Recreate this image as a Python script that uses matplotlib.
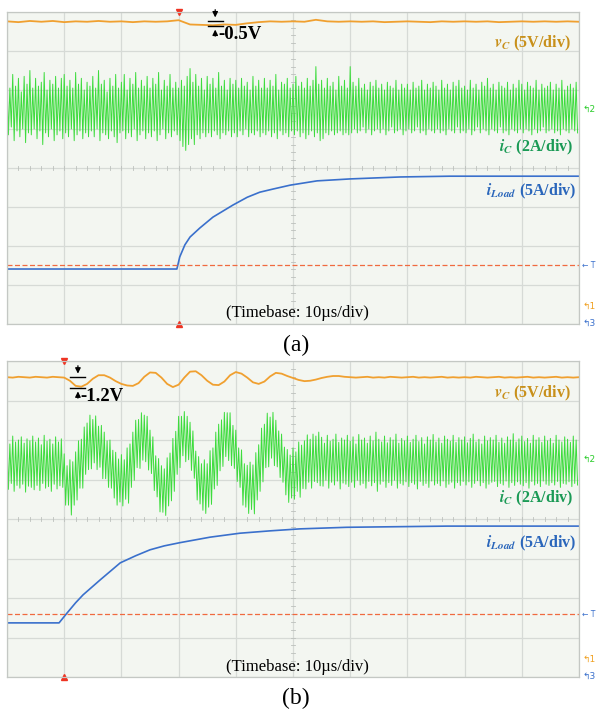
import numpy as np
import matplotlib.pyplot as plt

plt.rcParams['mathtext.fontset'] = 'stix'
SERIF = 'Liberation Serif'

# time axis: 0..100 us (10 us/div), vertical axis in divisions (0..8)
t_ic = np.arange(0, 100, 0.5)

# ---------------- panel (a) ----------------
vc_a = [7.76, 7.74, 7.77, 7.75, 7.77, 7.74, 7.76, 7.75, 7.77, 7.75,
        7.76, 7.74, 7.76, 7.75, 7.76, 7.79, 7.68, 7.67, 7.66, 7.68,
        7.67, 7.71, 7.74, 7.76, 7.75, 7.76, 7.75, 7.80, 7.76, 7.75,
        7.76, 7.75, 7.76, 7.74, 7.75, 7.76, 7.75, 7.74, 7.76, 7.75,
        7.76, 7.75, 7.76, 7.74, 7.75, 7.76, 7.75, 7.76, 7.75, 7.76, 7.75]
t_vc_a = np.arange(0, 101, 2.0)

ic_hi_a = [6.25, 6.05, 6.40, 6.10, 6.30, 5.95, 6.35, 6.15, 6.50, 6.05,
           6.30, 6.10, 6.20, 6.45, 6.00, 6.25, 6.15, 6.35, 6.05, 6.30,
           6.40, 6.10, 6.25, 6.05, 6.45, 6.15, 6.30, 6.00, 6.20, 6.10,
           6.35, 6.05, 6.50, 6.15, 6.25, 5.95, 6.30, 6.10, 6.40, 6.05,
           6.20, 6.40, 6.00, 6.30, 6.15, 6.45, 6.05, 6.25, 6.10, 6.35,
           6.05, 6.30, 6.15, 6.45, 6.00, 6.25, 6.10, 6.40, 6.05, 6.20,
           6.05, 6.25, 6.10, 6.35, 6.55, 6.20, 6.40, 6.10, 6.30, 6.00,
           6.35, 6.15, 6.30, 6.05, 6.45, 6.10, 6.25, 6.00, 6.30, 6.15,
           6.25, 6.05, 6.30, 6.10, 6.20, 6.00, 6.35, 6.10, 6.25, 6.05,
           6.30, 6.05, 6.25, 6.10, 6.40, 6.00, 6.20, 6.15, 6.30, 6.05,
           6.15, 6.35, 6.10, 6.20, 6.05, 6.30, 6.10, 6.25, 6.60, 6.15,
           6.25, 6.05, 6.30, 6.10, 6.20, 6.00, 6.35, 6.10, 6.25, 6.05,
           6.60, 6.20, 6.10, 6.30, 6.05, 6.15, 6.00, 6.20, 6.10, 6.25,
           6.05, 6.15, 6.00, 6.20, 6.10, 6.05, 6.25, 6.00, 6.15, 6.05,
           6.15, 6.00, 6.20, 6.05, 6.10, 6.25, 6.00, 6.15, 6.05, 6.20,
           6.10, 6.00, 6.25, 6.05, 6.15, 6.00, 6.20, 6.10, 6.25, 6.05,
           6.10, 6.00, 6.25, 6.05, 6.15, 6.00, 6.20, 6.10, 6.30, 6.05,
           6.15, 6.00, 6.20, 6.10, 6.05, 6.20, 6.00, 6.15, 6.05, 6.25,
           6.15, 6.00, 6.20, 6.10, 6.05, 6.25, 6.00, 6.15, 6.05, 6.10,
           6.20, 6.00, 6.15, 6.05, 6.25, 6.00, 6.10, 6.15, 6.05, 6.20]
ic_lo_a = [4.85, 5.05, 4.70, 4.95, 4.80, 5.00, 4.65, 4.90, 4.85, 5.00,
           4.75, 4.95, 4.60, 4.90, 4.80, 5.00, 4.70, 4.85, 4.95, 4.75,
           4.90, 4.80, 5.00, 4.70, 4.85, 4.95, 4.75, 4.90, 4.80, 4.95,
           4.80, 5.00, 4.70, 4.90, 4.85, 4.75, 4.95, 4.80, 4.65, 4.90,
           4.95, 4.75, 4.90, 4.80, 5.00, 4.70, 4.85, 4.95, 4.75, 4.90,
           4.80, 4.95, 4.70, 4.85, 5.00, 4.75, 4.90, 4.80, 4.95, 4.85,
           4.70, 4.55, 4.45, 4.60, 4.75, 4.60, 4.85, 4.75, 4.90, 4.80,
           4.90, 4.80, 4.95, 4.85, 4.75, 4.90, 4.85, 4.95, 4.80, 4.90,
           4.80, 4.95, 4.85, 5.00, 4.80, 4.90, 4.85, 4.95, 4.80, 4.90,
           4.85, 4.95, 4.80, 4.90, 4.75, 4.95, 4.85, 4.90, 4.80, 4.95,
           4.85, 4.95, 4.80, 4.90, 4.75, 4.85, 4.95, 4.80, 4.90, 4.70,
           4.75, 4.90, 4.85, 4.95, 4.85, 4.90, 4.95, 4.85, 4.90, 4.85,
           4.90, 5.00, 4.90, 4.95, 5.05, 4.90, 5.00, 4.85, 4.95, 5.00,
           4.90, 5.00, 4.85, 4.95, 5.05, 4.90, 4.95, 5.00, 4.85, 4.95,
           5.00, 4.90, 4.95, 5.05, 4.90, 4.95, 4.85, 5.00, 4.95, 4.90,
           5.00, 4.90, 4.95, 4.85, 5.00, 4.95, 4.90, 5.05, 4.90, 4.95,
           4.90, 5.00, 4.85, 4.95, 5.05, 4.90, 5.00, 4.95, 4.85, 5.00,
           4.95, 4.90, 5.05, 4.90, 4.95, 4.85, 5.00, 4.95, 4.90, 5.00,
           4.90, 5.00, 4.95, 4.85, 5.00, 4.90, 4.95, 5.05, 4.90, 4.95,
           5.00, 4.90, 4.95, 4.85, 5.00, 4.95, 4.90, 5.00, 4.95, 4.90]

t_load_a = [0, 29.7, 30.2, 31.1, 32.0, 33.7, 36.0, 39.5, 42.0, 44.2,
            46.5, 49.5, 54.2, 60.0, 68.7, 77.4, 100]
load_a = [1.41, 1.41, 1.72, 2.03, 2.23, 2.46, 2.74, 3.05, 3.25, 3.38,
          3.46, 3.56, 3.67, 3.72, 3.77, 3.79, 3.79]
trig_a = 1.51
trig_t_a = 30.0

# ---------------- panel (b) ----------------
vc_b = [7.59, 7.58, 7.60, 7.59, 7.58, 7.60, 7.59, 7.58, 7.60, 7.59,
        7.58, 7.50, 7.37, 7.35, 7.42, 7.55, 7.64, 7.64, 7.58, 7.49,
        7.42, 7.38, 7.37, 7.44, 7.60, 7.71, 7.70, 7.58, 7.42, 7.34,
        7.40, 7.58, 7.73, 7.74, 7.64, 7.50, 7.40, 7.39, 7.48, 7.64,
        7.72, 7.68, 7.58, 7.46, 7.42, 7.48, 7.61, 7.70, 7.68, 7.62,
        7.57, 7.52, 7.49, 7.50, 7.53, 7.57, 7.60, 7.62, 7.62, 7.60,
        7.59, 7.58, 7.59, 7.60, 7.58, 7.59, 7.58, 7.60, 7.59, 7.58,
        7.59, 7.60, 7.58, 7.59, 7.58, 7.59, 7.60, 7.58, 7.59, 7.58,
        7.59, 7.58, 7.60, 7.59, 7.58, 7.59, 7.60, 7.58, 7.59, 7.58,
        7.59, 7.60, 7.58, 7.59, 7.58, 7.59, 7.60, 7.58, 7.59, 7.58, 7.59]
t_vc_b = np.arange(0, 101, 1.0)

ic_hi_b = [6.05, 5.90, 6.10, 5.95, 6.00, 6.08, 5.92, 6.03, 5.98, 6.10,
           5.95, 6.05, 5.88, 6.12, 5.97, 6.02, 5.90, 6.08, 5.95, 6.03,
           5.65, 5.35, 5.50, 5.45, 5.70, 5.98, 6.02, 6.33, 6.43, 6.63,
           6.52, 6.61, 6.35, 6.37, 6.20, 5.98, 6.00, 5.74, 5.69, 5.52,
           5.63, 5.50, 5.80, 5.90, 6.20, 6.50, 6.52, 6.69, 6.63, 6.60,
           6.25, 6.08, 5.60, 5.53, 5.35, 5.27, 5.55, 5.67, 6.04, 6.22,
           6.60, 6.60, 6.72, 6.60, 6.45, 6.23, 5.72, 5.58, 5.40, 5.50,
           5.40, 5.73, 5.80, 6.20, 6.40, 6.51, 6.70, 6.69, 6.69, 6.37,
           6.25, 5.80, 5.75, 5.40, 5.36, 5.44, 5.37, 5.68, 5.88, 6.30,
           6.40, 6.68, 6.58, 6.70, 6.50, 6.23, 6.15, 5.82, 5.76, 5.62,
           5.80, 5.70, 5.95, 5.87, 5.98, 6.13, 6.02, 6.15, 6.10, 6.20,
           6.07, 5.92, 6.12, 5.97, 6.02, 6.15, 5.94, 6.05, 6.00, 6.12,
           5.97, 6.08, 5.90, 6.14, 6.00, 6.05, 5.92, 6.10, 5.98, 6.20,
           6.02, 5.95, 6.10, 5.93, 6.06, 6.00, 6.15, 5.92, 6.04, 5.98,
           6.10, 5.94, 6.02, 6.12, 5.96, 6.06, 5.90, 6.08, 6.00, 6.14,
           5.95, 6.05, 5.92, 6.10, 6.02, 5.97, 6.12, 5.94, 6.06, 6.00,
           6.08, 5.93, 6.04, 6.15, 5.95, 6.02, 5.90, 6.10, 5.98, 6.06,
           6.00, 6.12, 5.94, 6.05, 5.92, 6.08, 6.00, 6.16, 5.95, 6.03,
           6.10, 5.96, 6.04, 5.92, 6.12, 6.00, 6.06, 5.94, 6.10, 5.98,
           6.04, 5.92, 6.12, 6.00, 5.95, 6.08, 6.02, 5.94, 6.10, 6.00]
ic_lo_b = [4.75, 4.90, 4.70, 4.85, 4.78, 4.88, 4.68, 4.83, 4.80, 4.74,
           4.85, 4.72, 4.90, 4.78, 4.82, 4.70, 4.88, 4.76, 4.84, 4.80,
           4.35, 4.35, 4.10, 4.35, 4.48, 4.78, 4.78, 5.13, 5.25, 5.27,
           5.42, 5.25, 5.31, 5.02, 5.02, 4.80, 4.78, 4.53, 4.35, 4.43,
           4.33, 4.50, 4.40, 4.80, 4.98, 5.30, 5.28, 5.49, 5.45, 5.24,
           5.15, 4.72, 4.56, 4.18, 4.17, 4.09, 4.33, 4.46, 4.70, 5.13,
           5.30, 5.60, 5.45, 5.50, 5.23, 5.03, 4.48, 4.38, 4.22, 4.14,
           4.30, 4.37, 4.76, 4.85, 5.22, 5.33, 5.58, 5.48, 5.35, 5.28,
           4.95, 4.80, 4.35, 4.30, 4.14, 4.24, 4.13, 4.48, 4.70, 4.94,
           5.30, 5.32, 5.54, 5.35, 5.32, 5.05, 4.93, 4.61, 4.42, 4.53,
           4.50, 4.70, 4.55, 4.77, 4.76, 4.93, 4.78, 4.95, 4.92, 4.84,
           4.83, 4.98, 4.78, 4.93, 4.86, 4.96, 4.76, 4.91, 4.88, 4.82,
           4.93, 4.80, 4.98, 4.86, 4.90, 4.78, 4.95, 4.84, 4.92, 4.70,
           4.88, 4.95, 4.80, 4.92, 4.85, 4.98, 4.78, 4.90, 4.86, 4.94,
           4.82, 4.92, 4.88, 4.76, 4.95, 4.85, 4.90, 4.80, 4.96, 4.86,
           4.90, 4.84, 4.96, 4.80, 4.88, 4.93, 4.78, 4.92, 4.85, 4.95,
           4.86, 4.94, 4.80, 4.90, 4.97, 4.84, 4.92, 4.78, 4.88, 4.93,
           4.95, 4.82, 4.90, 4.86, 4.96, 4.80, 4.92, 4.85, 4.94, 4.88,
           4.84, 4.92, 4.78, 4.95, 4.86, 4.90, 4.82, 4.96, 4.88, 4.85,
           4.92, 4.86, 4.95, 4.80, 4.90, 4.88, 4.94, 4.82, 4.90, 4.86]

t_load_b = [0, 9.1, 10.5, 12.0, 13.3, 16.3, 19.8, 22.5, 25.0, 27.5,
            30.2, 35.5, 40.7, 46.0, 51.2, 59.4, 77.0, 100]
load_b = [1.37, 1.37, 1.62, 1.88, 2.08, 2.46, 2.89, 3.07, 3.22, 3.32,
          3.40, 3.54, 3.64, 3.70, 3.75, 3.79, 3.82, 3.82]
trig_b = 1.59
trig_t_b = 10.0

C_VC = '#f0a030'
C_VC_TXT = '#c8901a'
C_IC = '#3ddc3d'
C_IC_TXT = '#1a9a55'
C_LD = '#3a70cc'
C_LD_TXT = '#2a66bb'
C_TRIG = '#f06a40'


def draw_panel(ax, vc_t, vc, hi, lo, ld_t, ld, trig, trig_t, dip_txt, dip_t,
               dip_lvl, dip_low, caption, lab_y):
    ax.set_facecolor('#f3f6f1')
    ax.set_xlim(0, 100)
    ax.set_ylim(0, 8)
    ax.set_xticks(np.arange(0, 101, 10))
    ax.set_yticks(np.arange(0, 9, 1))
    ax.grid(True, color='#d6dad6', lw=0.9)
    ax.tick_params(length=0, labelbottom=False, labelleft=False)
    for s in ax.spines.values():
        s.set_color('#c4c8c4')
        s.set_linewidth(0.9)
    # small ticks on centre lines
    for x in np.arange(2, 100, 2):
        ax.plot([x, x], [3.94, 4.06], color='#bcc0bc', lw=0.6)
    for y in np.arange(0.2, 8, 0.2):
        ax.plot([49.6, 50.4], [y, y], color='#bcc0bc', lw=0.6)

    # iC trace (switching ripple)
    xs = np.empty(2 * len(t_ic))
    ys = np.empty(2 * len(t_ic))
    xs[0::2] = t_ic
    xs[1::2] = t_ic + 0.25
    ys[0::2] = hi
    ys[1::2] = lo
    ax.plot(xs, ys, color=C_IC, lw=0.7)
    ax.plot(vc_t, vc, color=C_VC, lw=1.3)
    ax.plot(ld_t, ld, color=C_LD, lw=1.2)
    ax.axhline(trig, color=C_TRIG, lw=0.9, ls=(0, (4, 2)))

    ax.plot([trig_t], [8], marker='v', color='#ee3322', ms=4, clip_on=False)
    ax.plot([trig_t], [0], marker='^', color='#ee3322', ms=4, clip_on=False)

    # dip annotation
    top = dip_lvl
    ax.plot([dip_t - 1.3, dip_t + 1.3], [top, top], color='k', lw=1.0,
            clip_on=False)
    ax.plot([dip_t - 1.3, dip_t + 1.3], [dip_low, dip_low], color='k', lw=1.0,
            clip_on=False)
    ax.annotate('', xy=(dip_t, top + 0.02), xytext=(dip_t, top + 0.36),
                arrowprops=dict(arrowstyle='-|>', color='k', lw=0.9,
                                mutation_scale=8), annotation_clip=False)
    ax.annotate('', xy=(dip_t, dip_low - 0.02), xytext=(dip_t, dip_low - 0.33),
                arrowprops=dict(arrowstyle='-|>', color='k', lw=0.9,
                                mutation_scale=8), annotation_clip=False)
    ax.text(dip_t + 0.5, dip_low - 0.22, dip_txt, fontsize=13.5, family=SERIF,
            fontweight='bold', va='center', ha='left')

    # channel labels
    ax.text(98.5, lab_y[0], r'$\mathbfit{v}_{\mathbfit{C}}$ (5V/div)',
            color=C_VC_TXT, fontsize=11.5, family=SERIF, fontweight='bold',
            ha='right', va='center')
    ax.text(99.0, lab_y[1], r'$\mathbfit{i}_{\mathbfit{C}}$ (2A/div)',
            color=C_IC_TXT, fontsize=11.5, family=SERIF, fontweight='bold',
            ha='right', va='center')
    ax.text(99.6, lab_y[2], r'$\mathbfit{i}_{\mathbfit{Load}}$ (5A/div)',
            color=C_LD_TXT, fontsize=11.5, family=SERIF, fontweight='bold',
            ha='right', va='center')
    ax.text(50.8, lab_y[3], '(Timebase: 10\u00b5s/div)', fontsize=12,
            family=SERIF, ha='center', va='center')

    # scope channel markers at right edge
    ax.text(100.6, trig, '\u2190 T', fontsize=5.5, color=C_LD, va='center',
            ha='left', clip_on=False)
    ax.text(100.6, 5.5, '\u21b02', fontsize=6.5, color='#2ccc2c', va='center',
            ha='left', clip_on=False)
    ax.text(100.6, 0.45, '\u21b01', fontsize=6.5, color='#f0a020',
            va='center', ha='left', clip_on=False)
    ax.text(100.6, 0.02, '\u21b03', fontsize=6.5, color=C_LD, va='center',
            ha='left', clip_on=False)

    ax.text(50.5, -0.55, caption, fontsize=17, family=SERIF, ha='center',
            va='center', clip_on=False)


fig = plt.figure(figsize=(5.97, 7.11), dpi=100)
ax_a = fig.add_axes([7 / 597, 1 - 324 / 711, 572 / 597, 312 / 711])
ax_b = fig.add_axes([7 / 597, 1 - 677 / 711, 572 / 597, 316 / 711])

draw_panel(ax_a, t_vc_a, vc_a, ic_hi_a, ic_lo_a, t_load_a, load_a, trig_a,
           trig_t_a, '-0.5V', 36.4, 7.77, 7.64, '(a)',
           [7.2, 4.53, 3.4, 0.28])
draw_panel(ax_b, t_vc_b, vc_b, ic_hi_b, ic_lo_b, t_load_b, load_b, trig_b,
           trig_t_b, '-1.2V', 12.4, 7.59, 7.32, '(b)',
           [7.19, 4.53, 3.39, 0.25])

fig.savefig('out.png', dpi=100)
